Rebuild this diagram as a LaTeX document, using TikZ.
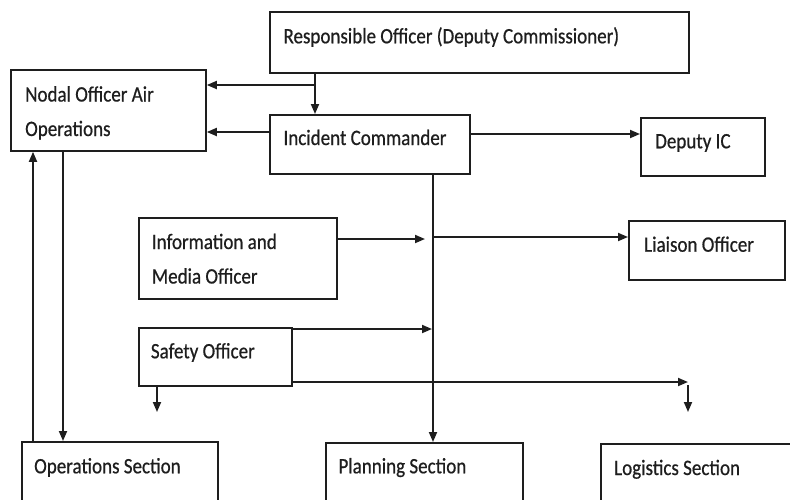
\documentclass[tikz,border=0pt]{standalone}
\usepackage{fontspec}
\setmainfont{Carlito}[FakeStretch=0.865,FakeBold=0.6]
\usetikzlibrary{arrows.meta}
\definecolor{ink}{HTML}{1E1E1E}
\tikzset{
  box/.style={draw=ink, line width=1.8pt, rectangle, inner sep=0pt, anchor=north west},
  txt/.style={text=ink, inner sep=0pt, anchor=base west, font=\fontsize{22}{34.5}\selectfont, align=left},
  arr/.style={draw=ink, line width=1.8pt, -{Triangle[length=10pt,width=8pt]}}
}
\begin{document}
\begin{tikzpicture}[x=1pt,y=-1pt]
\useasboundingbox (0,0) rectangle (790,499);
\clip (0,0) rectangle (790,499);
\fill[white] (0,0) rectangle (790,499);
% boxes
\node[box, minimum width=419pt, minimum height=61pt] (ro) at (269,11) {};
\node[box, minimum width=195pt, minimum height=81pt] (nodal) at (10,69) {};
\node[box, minimum width=200pt, minimum height=59pt] (ic) at (269,114) {};
\node[box, minimum width=124pt, minimum height=58pt] (dic) at (640,117) {};
\node[box, minimum width=198pt, minimum height=81pt] (info) at (138,217) {};
\node[box, minimum width=156pt, minimum height=59pt] (lia) at (628,220) {};
\node[box, minimum width=153pt, minimum height=58pt] (saf) at (138,327) {};
\node[box, minimum width=196pt, minimum height=80pt] (ops) at (21,441) {};
\node[box, minimum width=197pt, minimum height=80pt] (plan) at (325,442) {};
\node[box, minimum width=220pt, minimum height=80pt] (log) at (600,443) {};
% texts
\node[txt] (roT) at (283.3,43.3) {Responsible Officer (Deputy Commissioner)};
\node[txt] (nodalT) at (25,136) {Nodal Officer Air\\Operations};
\node[txt] (icT) at (283.3,145) {Incident Commander};
\node[txt] (dicT) at (655,148.3) {Deputy IC};
\node[txt] (infoT) at (151.7,283.5) {Information and\\Media Officer};
\node[txt] (liaT) at (644,251.7) {Liaison Officer};
\node[txt] (safT) at (150.7,358.3) {Safety Officer};
\node[txt] (opsT) at (34,473.3) {Operations Section};
\node[txt] (planT) at (338.3,473.3) {Planning Section};
\node[txt] (logT) at (614,475) {Logistics Section};
% connectors
\draw[arr] ([xshift=46pt]ro.south west) -- ([xshift=46pt]ic.north west);
\coordinate (br) at (315,85);
\draw[arr] (br) -- (br -| nodal.east);
\coordinate (icW) at (269,132);
\draw[arr] (icW) -- (icW -| nodal.east);
\coordinate (icE) at (469,134);
\draw[arr] (icE) -- (icE -| dic.west);
\coordinate (icS) at (433,173);
\draw[arr] (icS) -- (icS |- plan.north);
\coordinate (infoE) at (336,239);
\coordinate (j1) at (425,239);
\draw[arr] (infoE) -- (j1);
\coordinate (j2) at (433,237);
\draw[arr] (j2) -- (j2 -| lia.west);
\coordinate (sfE) at (291,329);
\coordinate (j3) at (432,329);
\draw[arr] (sfE) -- (j3);
\coordinate (sfB) at (291,382);
\coordinate (j4) at (688,382);
\draw[arr] (sfB) -- (j4);
\coordinate (sfS) at (157,385);
\coordinate (t1) at (157,412);
\draw[arr] (sfS) -- (t1);
\coordinate (j5) at (688,385);
\coordinate (t2) at (688,412);
\draw[arr] (j5) -- (t2);
\coordinate (ndS) at (63,150);
\draw[arr] (ndS) -- (ndS |- ops.north);
\coordinate (opN) at (33,441);
\draw[arr] (opN) -- (opN |- nodal.south);
\end{tikzpicture}
\end{document}
